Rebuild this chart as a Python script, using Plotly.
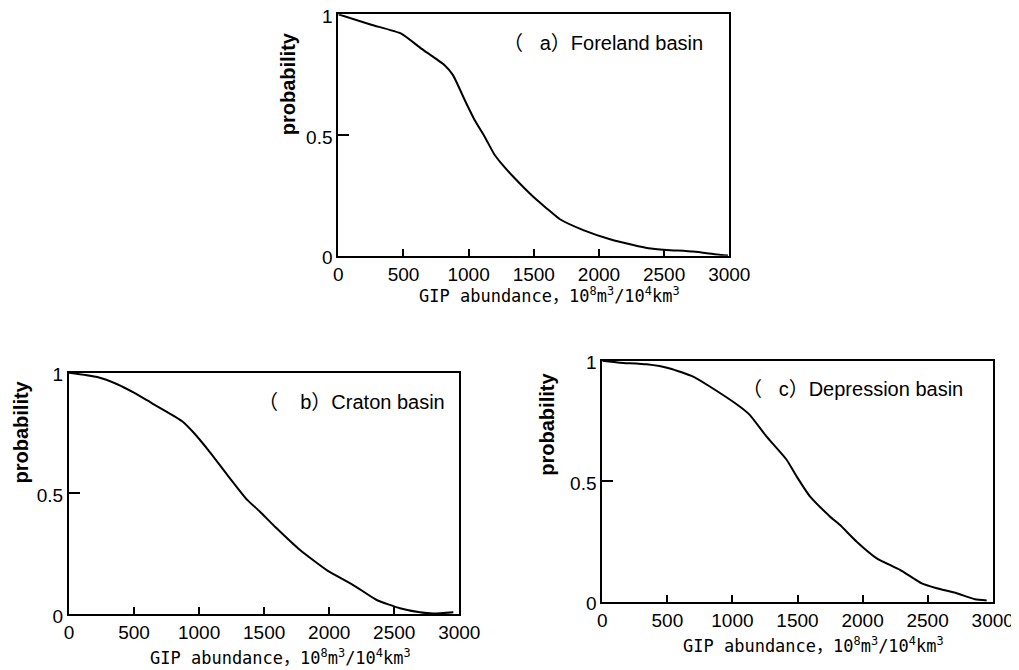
import plotly.graph_objects as go

# ---- data ----
foreland_x = [0, 253, 483, 637, 816, 880, 970, 1046, 1123, 1200, 1241, 1343, 1496, 1599, 1701, 1880,
              2085, 2263, 2379, 2520, 2724, 2877, 2942, 2990]
foreland_p = [1.0, 0.957, 0.920, 0.858, 0.789, 0.748, 0.645, 0.562, 0.493, 0.417, 0.389, 0.327, 0.244,
              0.196, 0.151, 0.106, 0.068, 0.044, 0.031, 0.024, 0.017, 0.007, 0.003, 0.001]

craton_x = [0, 217, 371, 499, 652, 870, 959, 1087, 1215, 1368, 1468, 1596, 1776, 1981, 2185, 2365,
            2544, 2698, 2800, 2954]
craton_p = [1.0, 0.982, 0.952, 0.917, 0.869, 0.799, 0.751, 0.668, 0.578, 0.474, 0.424, 0.355, 0.265,
            0.182, 0.120, 0.058, 0.024, 0.007, 0.002, 0.007]

depression_x = [0, 136, 341, 519, 698, 826, 1056, 1133, 1261, 1415, 1492, 1594, 1747, 1827, 1955,
                2109, 2288, 2454, 2570, 2723, 2864, 2954]
depression_p = [1.0, 0.992, 0.985, 0.968, 0.934, 0.893, 0.810, 0.775, 0.686, 0.590, 0.521, 0.438,
                0.355, 0.318, 0.249, 0.180, 0.132, 0.076, 0.056, 0.035, 0.010, 0.005]

x_ticks = [0, 500, 1000, 1500, 2000, 2500, 3000]
y_ticks = [0, 0.5, 1]
y_tick_text = ["0", "0.5", "1"]

NB = "\u00a0"
panel_labels = ["（" + NB * 3 + "a）Foreland basin",
                "（" + NB * 4 + "b）Craton basin",
                "（" + NB * 3 + "c）Depression basin"]
x_title = "GIP abundance，10<sup>8</sup>m<sup>3</sup>/10<sup>4</sup>km<sup>3</sup>"
y_title = "probability"

# the page body adds an 8px offset, so the figure is drawn 8px smaller and shifted
OFF = 8
W, H = 1019 - OFF, 670 - OFF
# plot frames in window pixels: (left, right, top, bottom)
frames = [(338.3, 729.3, 14.3, 255.7), (69.0, 459.3, 372.7, 614.0), (602.3, 992.7, 360.7, 601.7)]
series = [(foreland_x, foreland_p), (craton_x, craton_p), (depression_x, depression_p)]
label_pos = [(705, 42.7), (447, 401.7), (965, 389)]     # right end of the panel labels
xtitle_pos = [(549, 295), (280, 656.7), (813, 645)]
ytitle_pos = [(288.3, 84), (20, 432.5), (546.7, 424)]


def px(x):
    return (x - OFF) / W


def py(y):
    return 1 - (y - OFF) / H


fig = go.Figure()
tick_font = dict(family="Liberation Sans, Arial, sans-serif", size=19, color="black")

for i, ((l, r, t, b), (xs, ps)) in enumerate(zip(frames, series)):
    n = "" if i == 0 else str(i + 1)
    fig.add_trace(go.Scatter(x=xs, y=ps, mode="lines",
                             line=dict(color="black", width=2, shape="spline", smoothing=0.5),
                             xaxis="x" + n, yaxis="y" + n, showlegend=False, hoverinfo="skip"))
    fig.update_layout(**{
        "xaxis" + n: dict(domain=[px(l), px(r)], range=[0, 3000], anchor="y" + n,
                          tickmode="array", tickvals=x_ticks, ticks="inside", ticklen=7,
                          tickwidth=1.5, tickcolor="black", showline=True, linecolor="black",
                          linewidth=2, mirror=True, showgrid=False, zeroline=False,
                          tickfont=tick_font, automargin=False, ticklabeloverflow="allow"),
        "yaxis" + n: dict(domain=[py(b), py(t)], range=[0, 1], anchor="x" + n,
                          tickmode="array", tickvals=y_ticks, ticktext=y_tick_text,
                          ticks="inside", ticklen=11, tickwidth=1.5, tickcolor="black",
                          showline=True, linecolor="black", linewidth=2, mirror=True,
                          showgrid=False, zeroline=False, tickfont=tick_font, automargin=False,
                          ticklabeloverflow="allow", ticklabelshift=2),
    })
    lx, ly = label_pos[i]
    fig.add_annotation(x=px(lx), y=py(ly), xref="paper", yref="paper", text=panel_labels[i],
                       showarrow=False, xanchor="right", yanchor="middle",
                       font=dict(family="Liberation Sans, Arial, Noto Sans CJK SC", size=20, color="black"))
    tx, ty = xtitle_pos[i]
    fig.add_annotation(x=px(tx), y=py(ty), xref="paper", yref="paper", text=x_title,
                       showarrow=False, xanchor="center", yanchor="middle",
                       font=dict(family="DejaVu Sans Mono, Noto Sans CJK SC", size=17, color="black"))
    yx, yy = ytitle_pos[i]
    fig.add_annotation(x=px(yx), y=py(yy), xref="paper", yref="paper", text="<b>" + y_title + "</b>",
                       showarrow=False, xanchor="center", yanchor="middle", textangle=-90,
                       font=dict(family="Liberation Sans, Arial, sans-serif", size=20, color="black"))

fig.update_layout(width=W, height=H,
                  margin=dict(l=0, r=0, t=0, b=0, pad=0, autoexpand=False),
                  paper_bgcolor="white", plot_bgcolor="white")
fig.write_html("out.html")
